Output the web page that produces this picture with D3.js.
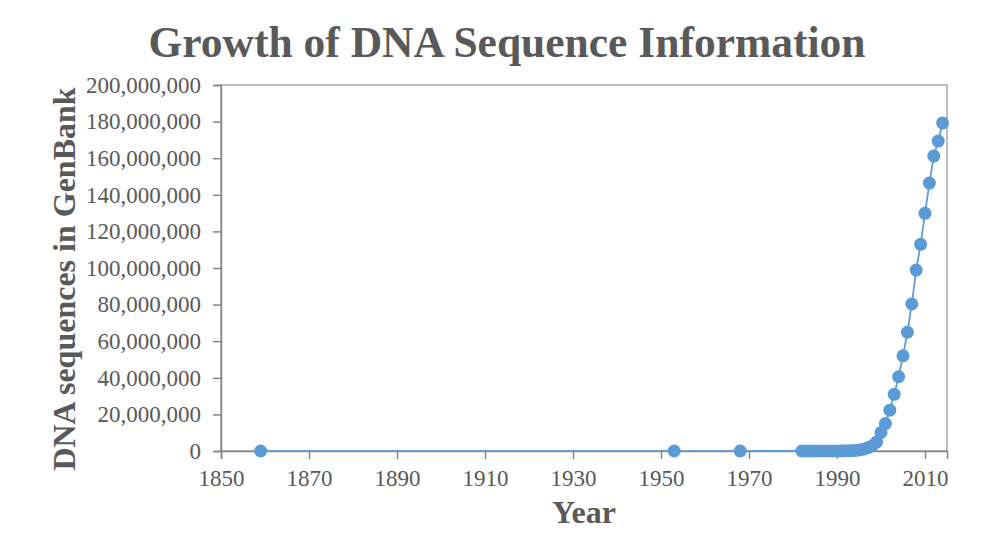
<!DOCTYPE html>
<html>
<head>
<meta charset="utf-8">
<script src="https://cdn.jsdelivr.net/npm/d3@7"></script>
<style>
  html, body { margin: 0; padding: 0; background: #fff; }
  svg { display: block; font-family: "Liberation Serif", "Times New Roman", serif; }
</style>
</head>
<body>
<svg id="chart" width="1000" height="550"></svg>
<script>
// Year of each observation
const years = [1859, 1953, 1968,
  1982, 1983, 1984, 1985, 1986, 1987, 1988, 1989, 1990, 1991, 1992, 1993,
  1994, 1995, 1996, 1997, 1998, 1999, 2000, 2001, 2002, 2003, 2004, 2005,
  2006, 2007, 2008, 2009, 2010, 2011, 2012, 2013, 2014];
// DNA sequences in GenBank
const sequences = [0, 0, 0,
  606, 2427, 4175, 5700, 9978, 14584, 20579, 28791, 39533, 55627, 78608, 143492,
  215273, 555694, 1021211, 1765847, 2837897, 4864570, 10106023, 14976310, 22318883,
  30968418, 40604319, 52016762, 64893747, 80388382, 98868465, 112910950,
  129902276, 146413798, 161140325, 169331407, 179295769];
const xTicks = [1850, 1870, 1890, 1910, 1930, 1950, 1970, 1990, 2010];
const yTicks = [0, 20e6, 40e6, 60e6, 80e6, 100e6, 120e6, 140e6, 160e6, 180e6, 200e6];

const data = years.map((y, i) => ({ year: y, value: sequences[i] }));

const svg = d3.select("#chart");
const plot = { left: 221, right: 947, top: 85, bottom: 451 };
const serif = '"Liberation Serif", "Times New Roman", serif';
const textColor = "#595959";
const seriesColor = "#5B9BD5";

const x = d3.scaleLinear().domain([1850, 2015]).range([plot.left, plot.right]);
const y = d3.scaleLinear().domain([0, 200e6]).range([plot.bottom, plot.top]);

// plot area border
svg.append("rect")
  .attr("x", plot.left).attr("y", plot.top)
  .attr("width", plot.right - plot.left).attr("height", plot.bottom - plot.top)
  .attr("fill", "none").attr("stroke", "#a6a6a6").attr("stroke-width", 1.5);

const fmt = d3.format(",");

const yAxis = svg.append("g")
  .attr("transform", `translate(${plot.left},0)`)
  .call(d3.axisLeft(y).tickValues(yTicks).tickFormat(fmt).tickSize(8).tickPadding(12));

const xAxis = svg.append("g")
  .attr("transform", `translate(0,${plot.bottom})`)
  .call(d3.axisBottom(x).tickValues(xTicks).tickFormat(d3.format("d")).tickSize(8).tickPadding(11));

[yAxis, xAxis].forEach(g => {
  g.attr("font-family", serif).attr("font-size", 23);
  g.selectAll("text").attr("fill", textColor);
  g.select(".domain").attr("stroke", "#868686").attr("stroke-width", 1.5);
  g.selectAll(".tick line").attr("stroke", "#868686").attr("stroke-width", 1.5);
});

// series line
const line = d3.line().x(d => x(d.year)).y(d => y(d.value));
svg.append("path")
  .datum(data)
  .attr("d", line)
  .attr("fill", "none")
  .attr("stroke", seriesColor)
  .attr("stroke-width", 1.75);

svg.append("g").selectAll("circle")
  .data(data).enter().append("circle")
  .attr("cx", d => x(d.year))
  .attr("cy", d => y(d.value))
  .attr("r", 6.5)
  .attr("fill", seriesColor);

// titles
svg.append("text")
  .attr("x", 507).attr("y", 57)
  .attr("text-anchor", "middle")
  .attr("fill", textColor)
  .style("font-size", "43.5px").style("font-weight", "bold")
  .text("Growth of DNA Sequence Information");

svg.append("text")
  .attr("x", (plot.left + plot.right) / 2).attr("y", 523)
  .attr("text-anchor", "middle")
  .attr("fill", textColor)
  .style("font-size", "32px").style("font-weight", "bold")
  .text("Year");

svg.append("text")
  .attr("transform", "translate(75,279) rotate(-90)")
  .attr("text-anchor", "middle")
  .attr("fill", textColor)
  .style("font-size", "32px").style("font-weight", "bold")
  .text("DNA sequences in GenBank");
</script>
</body>
</html>
